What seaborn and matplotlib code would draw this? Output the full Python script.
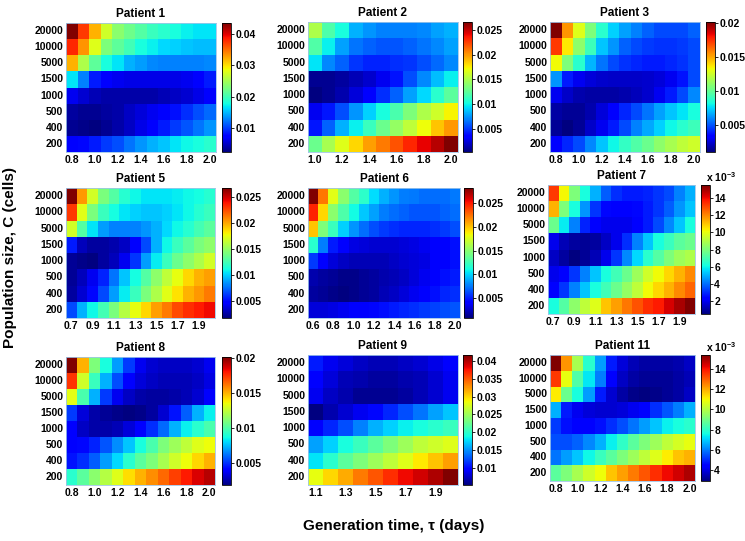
import numpy as np
import pandas as pd
import seaborn as sns
import matplotlib.pyplot as plt
from matplotlib.ticker import FuncFormatter

plt.rcParams['font.family'] = ['Liberation Sans', 'DejaVu Sans']
plt.rcParams['font.weight'] = 'bold'
plt.rcParams['mathtext.fontset'] = 'custom'
plt.rcParams['mathtext.rm'] = 'Liberation Sans:bold'
plt.rcParams['mathtext.it'] = 'Liberation Sans:italic:bold'

# population sizes (rows, top to bottom)
sizes = [20000, 10000, 5000, 1500, 1000, 500, 400, 200]

# generation times (days) for each patient
tau_06 = [0.6, 0.7, 0.8, 0.9, 1.0, 1.1, 1.2, 1.3, 1.4, 1.5, 1.6, 1.7, 1.8, 1.9, 2.0]
tau_07 = [0.7, 0.8, 0.9, 1.0, 1.1, 1.2, 1.3, 1.4, 1.5, 1.6, 1.7, 1.8, 1.9, 2.0]
tau_08 = [0.8, 0.9, 1.0, 1.1, 1.2, 1.3, 1.4, 1.5, 1.6, 1.7, 1.8, 1.9, 2.0]
tau_10 = [1.0, 1.1, 1.2, 1.3, 1.4, 1.5, 1.6, 1.7, 1.8, 1.9, 2.0]
tau_11 = [1.1, 1.2, 1.3, 1.4, 1.5, 1.6, 1.7, 1.8, 1.9, 2.0]

# values in units of 1e-3
p1_vals = [
    [43.5, 37.4, 32.0, 27.1, 23.8, 22.2, 21.0, 19.7, 18.9, 18.1, 17.3, 16.9, 16.9],
    [38.2, 33.3, 27.9, 23.0, 21.4, 20.1, 18.1, 17.3, 16.4, 16.0, 15.6, 15.2, 15.2],
    [32.0, 25.5, 21.4, 18.1, 16.9, 14.8, 14.0, 13.2, 12.8, 12.8, 12.8, 12.8, 13.2],
    [16.9, 12.8, 8.7, 7.4, 6.6, 6.2, 6.2, 6.2, 6.2, 6.2, 6.6, 7.4, 8.7],
    [6.6, 5.4, 4.5, 4.1, 4.1, 4.1, 4.1, 4.1, 4.5, 5.0, 5.4, 6.2, 7.4],
    [3.7, 3.3, 3.3, 3.7, 4.1, 5.0, 5.8, 6.6, 7.4, 8.2, 9.5, 10.7, 11.9],
    [3.3, 2.9, 2.5, 3.3, 4.1, 5.0, 6.2, 7.4, 8.7, 9.9, 11.1, 12.3, 13.6],
    [7.4, 7.8, 8.7, 9.9, 10.7, 12.3, 13.6, 14.8, 15.6, 16.9, 17.7, 18.1, 18.9],
]
p2_vals = [
    [15.0, 12.0, 10.3, 8.2, 7.4, 6.9, 6.9, 6.9, 7.1, 7.7, 8.2],
    [12.1, 9.8, 7.7, 6.6, 6.1, 5.8, 5.8, 6.1, 6.6, 7.1, 7.7],
    [9.5, 7.1, 6.1, 5.0, 4.5, 4.5, 4.8, 5.0, 5.6, 6.3, 7.1],
    [0.8, 0.8, 1.1, 1.6, 2.1, 2.9, 4.0, 5.6, 7.1, 8.5, 9.8],
    [0.3, 0.8, 1.35, 2.4, 3.5, 4.8, 6.1, 7.7, 9.2, 10.8, 12.4],
    [2.9, 4.2, 5.6, 7.4, 9.0, 10.3, 11.9, 13.5, 15.0, 16.1, 17.4],
    [4.2, 6.1, 8.2, 9.8, 11.3, 12.9, 14.2, 15.6, 17.1, 18.7, 20.0],
    [12.9, 14.8, 16.6, 18.2, 19.8, 20.8, 21.9, 23.2, 24.2, 25.3, 26.6],
]
p3_vals = [
    [20.2, 15.4, 12.9, 10.6, 8.7, 7.3, 6.4, 5.8, 5.2, 4.8, 4.8, 4.8, 5.2],
    [17.3, 13.7, 11.0, 9.1, 7.1, 6.2, 5.2, 4.8, 4.5, 4.3, 4.3, 4.5, 4.8],
    [13.3, 10.6, 8.7, 6.8, 5.6, 4.8, 4.3, 4.1, 3.9, 3.9, 4.1, 4.3, 4.8],
    [6.2, 3.9, 2.9, 2.5, 2.3, 2.2, 2.2, 2.2, 2.3, 2.5, 2.9, 3.7, 4.8],
    [2.9, 2.2, 1.8, 1.6, 1.6, 1.6, 1.8, 2.0, 2.3, 2.9, 3.9, 4.8, 6.0],
    [1.6, 1.4, 1.4, 1.8, 2.5, 3.3, 4.1, 4.8, 5.6, 6.4, 7.1, 7.7, 8.3],
    [1.4, 1.0, 1.4, 2.2, 2.9, 3.9, 4.8, 5.8, 6.6, 7.3, 8.1, 8.7, 9.1],
    [3.3, 4.1, 4.8, 6.0, 7.1, 8.1, 8.9, 9.6, 10.2, 11.0, 11.6, 12.1, 12.5],
]
p5_vals = [
    [26.8, 20.5, 16.8, 14.2, 13.0, 11.7, 11.0, 10.5, 10.5, 10.5, 10.7, 11.0, 11.2, 11.7],
    [23.0, 17.3, 14.2, 12.2, 11.2, 10.5, 10.0, 9.7, 9.7, 10.0, 10.5, 11.0, 11.7, 12.2],
    [16.8, 13.0, 10.5, 8.7, 8.0, 8.0, 8.0, 8.5, 9.2, 10.2, 11.0, 11.7, 12.5, 13.2],
    [5.5, 3.0, 2.45, 2.45, 2.7, 3.2, 4.7, 6.7, 9.2, 11.0, 12.2, 13.2, 14.2, 14.8],
    [2.2, 1.95, 1.7, 2.45, 3.0, 4.2, 6.2, 8.7, 10.7, 12.2, 13.7, 14.8, 15.8, 16.8],
    [2.2, 3.0, 4.2, 5.7, 7.7, 9.7, 11.2, 13.0, 14.8, 16.3, 17.5, 18.8, 19.8, 20.3],
    [2.45, 3.5, 5.0, 6.7, 8.7, 10.7, 12.2, 14.2, 15.8, 17.3, 18.5, 19.8, 20.5, 21.3],
    [6.7, 9.2, 11.0, 12.5, 14.2, 16.0, 17.5, 18.8, 20.3, 21.3, 22.5, 23.3, 23.8, 24.3],
]
p6_vals = [
    [28.2, 22.2, 17.8, 15.0, 13.1, 11.8, 10.1, 9.0, 8.2, 7.6, 7.4, 7.1, 7.1, 7.1, 7.4],
    [24.7, 19.5, 15.0, 12.9, 11.0, 9.6, 8.5, 7.6, 7.1, 6.8, 6.5, 6.5, 6.5, 6.8, 7.1],
    [20.0, 14.5, 12.3, 9.8, 8.2, 7.1, 6.25, 5.7, 5.4, 5.15, 5.15, 5.15, 5.4, 5.7, 6.25],
    [11.75, 7.6, 4.9, 3.8, 3.2, 2.95, 2.7, 2.7, 2.7, 2.95, 3.2, 3.5, 3.8, 4.05, 4.6],
    [5.7, 4.05, 2.95, 2.4, 2.1, 2.1, 2.1, 2.1, 2.4, 2.7, 2.95, 3.2, 3.8, 4.05, 4.6],
    [1.85, 1.6, 1.3, 1.0, 1.0, 1.3, 1.6, 1.85, 2.1, 2.4, 2.95, 3.5, 4.05, 4.6, 4.9],
    [1.6, 1.3, 1.0, 0.75, 1.0, 1.3, 1.6, 2.1, 2.4, 2.95, 3.5, 4.05, 4.6, 5.15, 5.4],
    [2.95, 2.95, 3.2, 3.5, 3.8, 4.05, 4.3, 4.6, 4.9, 5.15, 5.4, 5.7, 6.0, 6.25, 6.5],
]
p7_vals = [
    [13.2, 10.2, 8.0, 6.2, 5.0, 3.8, 3.1, 2.8, 2.8, 2.9, 3.2, 3.5, 4.3, 5.0],
    [11.3, 8.0, 6.2, 4.6, 3.2, 2.5, 2.3, 2.3, 2.5, 2.8, 3.2, 3.8, 4.6, 5.3],
    [7.7, 5.9, 4.3, 2.9, 2.3, 2.0, 2.0, 2.0, 2.3, 2.8, 3.5, 4.4, 5.3, 6.2],
    [2.0, 1.3, 1.0, 0.85, 1.0, 1.45, 2.0, 3.1, 4.3, 5.3, 6.2, 6.8, 7.4, 7.7],
    [1.45, 1.0, 0.55, 0.85, 1.3, 2.0, 3.2, 4.4, 5.6, 6.5, 7.3, 8.0, 8.6, 8.9],
    [2.0, 2.3, 3.2, 4.3, 5.3, 6.2, 6.95, 7.7, 8.6, 9.5, 10.1, 10.7, 11.3, 11.9],
    [2.3, 3.2, 4.3, 5.3, 6.2, 6.95, 7.7, 8.45, 9.2, 10.1, 10.7, 11.3, 11.9, 12.5],
    [6.2, 7.3, 8.3, 9.2, 9.8, 11.0, 11.6, 12.2, 12.8, 13.4, 13.7, 14.3, 14.9, 15.45],
]
p8_vals = [
    [20.2, 15.1, 11.05, 8.85, 7.0, 5.2, 3.7, 3.2, 3.0, 3.0, 3.0, 3.2, 3.7],
    [17.5, 12.9, 9.6, 7.4, 5.6, 4.1, 3.35, 3.0, 2.8, 2.8, 2.8, 3.0, 3.5],
    [13.4, 9.95, 7.4, 5.2, 3.7, 3.0, 2.6, 2.45, 2.45, 2.6, 2.8, 3.2, 4.1],
    [5.2, 3.35, 2.6, 2.3, 2.1, 1.9, 2.1, 2.45, 3.2, 4.5, 5.9, 7.4, 8.5],
    [4.1, 3.0, 2.6, 2.6, 2.8, 3.35, 4.1, 5.0, 6.1, 7.4, 8.5, 9.2, 9.95],
    [4.1, 4.3, 4.8, 5.7, 6.7, 7.75, 8.85, 9.95, 11.05, 11.8, 12.5, 13.25, 13.6],
    [4.5, 5.0, 5.9, 7.0, 8.1, 9.2, 10.3, 11.05, 12.0, 12.9, 13.6, 14.35, 15.1],
    [9.2, 10.3, 11.4, 12.3, 13.25, 14.2, 15.1, 15.8, 16.5, 17.3, 18.0, 18.7, 19.3],
]
p9_vals = [
    [10.6, 8.8, 8.0, 7.3, 6.9, 6.9, 7.3, 7.7, 8.4, 9.5],
    [9.5, 8.0, 6.9, 6.6, 6.2, 6.2, 6.6, 6.9, 7.7, 8.8],
    [8.8, 7.3, 6.6, 5.8, 5.8, 5.8, 6.2, 6.9, 7.7, 8.8],
    [5.1, 6.6, 7.7, 8.8, 9.9, 11.0, 12.4, 13.9, 15.4, 16.8],
    [9.5, 11.0, 12.4, 14.3, 16.1, 17.2, 18.3, 19.0, 19.7, 20.5],
    [15.4, 17.2, 19.0, 20.5, 21.9, 23.4, 24.9, 26.3, 27.1, 27.8],
    [17.9, 19.7, 21.9, 23.4, 24.9, 26.3, 27.8, 29.3, 30.7, 32.2],
    [28.2, 30.0, 31.8, 33.6, 35.1, 36.6, 38.0, 39.1, 40.2, 41.7],
]
p11_vals = [
    [15.4, 12.3, 9.8, 7.9, 6.4, 4.8, 3.9, 3.5, 3.3, 3.3, 3.3, 3.4, 3.65],
    [13.5, 10.8, 8.5, 7.3, 6.0, 4.4, 3.65, 3.3, 3.15, 3.15, 3.15, 3.3, 3.5],
    [11.15, 8.9, 7.65, 6.4, 4.8, 3.8, 3.3, 3.0, 2.9, 3.0, 3.15, 3.3, 3.65],
    [6.65, 4.8, 4.15, 3.9, 3.8, 3.8, 3.9, 4.15, 4.5, 5.0, 5.5, 6.0, 6.65],
    [5.15, 4.65, 4.4, 4.4, 4.65, 5.0, 5.4, 5.9, 6.4, 6.9, 7.4, 7.65, 7.9],
    [5.4, 5.4, 5.65, 6.15, 6.65, 7.4, 8.0, 8.65, 9.15, 9.65, 10.15, 10.5, 10.8],
    [5.9, 6.4, 6.9, 7.5, 8.15, 8.65, 9.15, 9.65, 10.15, 10.65, 11.15, 11.65, 11.9],
    [8.65, 9.15, 9.8, 10.4, 10.9, 11.65, 12.15, 12.65, 13.15, 13.65, 14.15, 14.5, 14.9],
]

titles = ['Patient 1', 'Patient 2', 'Patient 3', 'Patient 5', 'Patient 6',
          'Patient 7', 'Patient 8', 'Patient 9', 'Patient 11']
taus = [tau_08, tau_10, tau_08, tau_07, tau_06, tau_07, tau_08, tau_11, tau_08]
values = [p1_vals, p2_vals, p3_vals, p5_vals, p6_vals, p7_vals, p8_vals, p9_vals, p11_vals]
cbar_ticks = [
    [0.01, 0.02, 0.03, 0.04],
    [0.005, 0.01, 0.015, 0.02, 0.025],
    [0.005, 0.01, 0.015, 0.02],
    [0.005, 0.01, 0.015, 0.02, 0.025],
    [0.005, 0.01, 0.015, 0.02, 0.025],
    [0.002, 0.004, 0.006, 0.008, 0.010, 0.012, 0.014],
    [0.005, 0.01, 0.015, 0.02],
    [0.01, 0.015, 0.02, 0.025, 0.03, 0.035, 0.04],
    [0.004, 0.006, 0.008, 0.010, 0.012, 0.014],
]
milli = [False, False, False, False, False, True, False, False, True]

# layout in pixels: heatmap (x, y, w, h), colorbar x
W, H = 745, 541
boxes = [
    (66, 23, 150, 129, 222), (308, 22, 150, 130, 463), (550, 22, 150, 130, 706),
    (66, 188, 149, 130, 222), (308, 188, 152, 130, 464), (548, 185, 147, 129, 701),
    (66, 357, 149, 128, 222), (308, 355, 150, 130, 463), (550, 355, 145, 126, 701),
]

fig = plt.figure(figsize=(7.45, 5.41), dpi=100)

for i in range(9):
    x, y, w, h, cx = boxes[i]
    ax = fig.add_axes([x / W, 1 - (y + h) / H, w / W, h / H])
    cax = fig.add_axes([cx / W, 1 - (y + h) / H, 9 / W, h / H])
    df = pd.DataFrame(np.array(values[i]) * 1e-3, index=sizes,
                      columns=[f"{t:.1f}" for t in taus[i]])
    sns.heatmap(df, cmap='jet', ax=ax, cbar_ax=cax, xticklabels=2, yticklabels=True)
    ax.set_title(titles[i], fontsize=8.5, fontweight='bold', pad=4)
    ax.tick_params(length=0, labelsize=7.5, pad=2)
    plt.setp(ax.get_xticklabels(), rotation=0, fontweight='bold')
    plt.setp(ax.get_yticklabels(), rotation=0, fontweight='bold')
    ax.set_xlabel('')
    ax.set_ylabel('')
    for s in ax.spines.values():
        s.set_visible(True)
        s.set_color('#9fc5e8')
        s.set_linewidth(0.6)

    cbar = ax.collections[0].colorbar
    cbar.set_ticks(cbar_ticks[i])
    if milli[i]:
        cbar.ax.yaxis.set_major_formatter(FuncFormatter(lambda v, _: f"{v * 1000:g}"))
        cax.text(0.6, 1.01, 'x 10$^{-3}$', transform=cax.transAxes,
                 fontsize=7.5, ha='left', va='bottom')
    else:
        cbar.ax.yaxis.set_major_formatter(FuncFormatter(lambda v, _: f"{v:g}"))
    cbar.ax.tick_params(labelsize=7.5, length=2, width=0.6, pad=1)
    plt.setp(cbar.ax.get_yticklabels(), fontweight='bold')
    cbar.outline.set_linewidth(0.6)

fig.text(10 / W, 1 - 258 / H, 'Population size, C (cells)', rotation=90,
         ha='center', va='center', fontsize=11, fontweight='bold')
fig.text(394 / W, 1 - 526 / H, 'Generation time, τ (days)',
         ha='center', va='center', fontsize=11, fontweight='bold')

fig.savefig('out.png', dpi=100, facecolor='white')
